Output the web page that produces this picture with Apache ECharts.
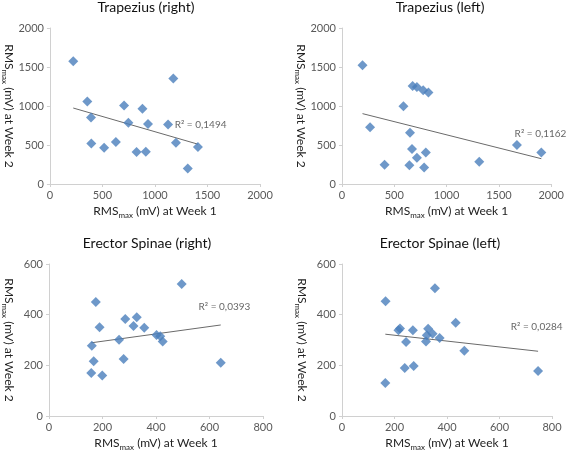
<!DOCTYPE html>
<html>
<head>
<meta charset="utf-8">
<script src="https://cdn.jsdelivr.net/npm/echarts@6/dist/echarts.min.js"></script>
<style>html,body{margin:0;padding:0;background:#fff;}#c{width:567px;height:452px;}</style>
</head>
<body>
<div id="c"></div>
<script>
// Panel titles and R² labels
var titles = ['Trapezius (right)', 'Trapezius (left)', 'Erector Spinae (right)', 'Erector Spinae (left)'];
var r2Labels = ['R\u00b2 = 0,1494', 'R\u00b2 = 0,1162', 'R\u00b2 = 0,0393', 'R\u00b2 = 0,0284'];
var axisMax = [2000, 2000, 800, 800];
var axisStep = [500, 500, 200, 200];
var yMax = [2000, 2000, 600, 600];
var yStep = [500, 500, 200, 200];

// Week 1 (x) and Week 2 (y) values per panel
var trapRightW1 = [222, 356, 391, 394, 516, 628, 706, 747, 825, 881, 913, 934, 1125, 1175, 1200, 1312, 1409];
var trapRightW2 = [1574, 1058, 853, 520, 465, 537, 1006, 785, 409, 964, 414, 768, 763, 1352, 529, 200, 473];
var trapLeftW1 = [196, 268, 407, 587, 650, 644, 669, 675, 716, 716, 776, 785, 801, 826, 1312, 1672, 1905];
var trapLeftW2 = [1522, 729, 247, 998, 657, 239, 448, 1258, 1245, 337, 1203, 213, 405, 1173, 286, 499, 405];
var esRightW1 = [175, 496, 328, 285, 316, 189, 356, 402, 416, 425, 262, 160, 167, 279, 158, 199, 642];
var esRightW2 = [450, 521, 390, 383, 355, 350, 348, 320, 315, 294, 301, 277, 216, 225, 170, 160, 210];
var esLeftW1 = [166, 354, 165, 433, 215, 221, 270, 244, 328, 323, 345, 320, 372, 239, 273, 466, 747];
var esLeftW2 = [453, 504, 130, 368, 338, 345, 338, 292, 344, 319, 325, 294, 308, 189, 197, 258, 178];

var xs = [trapRightW1, trapLeftW1, esRightW1, esLeftW1];
var ys = [trapRightW2, trapLeftW2, esRightW2, esLeftW2];

function regress(x, y) {
  var n = x.length, sx = 0, sy = 0, sxx = 0, sxy = 0;
  for (var i = 0; i < n; i++) { sx += x[i]; sy += y[i]; sxx += x[i]*x[i]; sxy += x[i]*y[i]; }
  var b = (n*sxy - sx*sy) / (n*sxx - sx*sx);
  var a = (sy - b*sx) / n;
  var mn = Math.min.apply(null, x), mx = Math.max.apply(null, x);
  return [[mn, a + b*mn], [mx, a + b*mx]];
}

var grids = [
  {left: 47, top: 28, width: 213, height: 156},
  {left: 342, top: 28, width: 212, height: 156},
  {left: 47, top: 264, width: 216, height: 154},
  {left: 342, top: 264, width: 210, height: 154}
];
var titlePos = [[146, 0], [440, 0], [147, 236], [440, 236]];
var labelPos = [[1188, 755], [1650, 640], [559, 431], [643, 351]];

var font = 'Lato, "Open Sans", sans-serif';
var nameRich = {
  s: {fontSize: 8, fontFamily: font, color: '#222', verticalAlign: 'top', padding: [7, 0, 0, 0]}
};
function plain(v) { return String(v); }

var option = {
  animation: false,
  textStyle: {fontFamily: font},
  title: titles.map(function (t, i) {
    return {text: t, left: titlePos[i][0], top: titlePos[i][1], textAlign: 'center', padding: 0,
      textStyle: {fontSize: 14, fontWeight: 'normal', color: '#111', fontFamily: font}};
  }),
  grid: grids,
  xAxis: grids.map(function (g, i) {
    return {gridIndex: i, type: 'value', min: 0, max: axisMax[i], interval: axisStep[i],
      name: 'RMS{s|max} (mV) at Week 1', nameLocation: 'middle', nameGap: 20,
      nameTextStyle: {fontSize: 12, color: '#222', fontFamily: font, rich: nameRich},
      axisLine: {show: true, lineStyle: {color: '#d0d0d0'}},
      axisTick: {show: true, length: 3, lineStyle: {color: '#d0d0d0'}},
      axisLabel: {fontSize: 11, color: '#595959', margin: 6, fontFamily: font, formatter: plain},
      splitLine: {show: false}};
  }),
  yAxis: grids.map(function (g, i) {
    return {gridIndex: i, type: 'value', min: 0, max: yMax[i], interval: yStep[i],
      name: 'RMS{s|max} (mV) at Week 2', nameLocation: 'middle', nameGap: 33, nameRotate: -90,
      nameTextStyle: {fontSize: 12, color: '#222', fontFamily: font, rich: nameRich},
      axisLine: {show: true, lineStyle: {color: '#d0d0d0'}},
      axisTick: {show: true, length: 3, lineStyle: {color: '#d0d0d0'}},
      axisLabel: {fontSize: 11, color: '#595959', margin: 6, fontFamily: font, formatter: plain},
      splitLine: {show: false}};
  }),
  series: []
};

for (var i = 0; i < 4; i++) {
  var pts = xs[i].map(function (v, k) { return [v, ys[i][k]]; });
  option.series.push({
    type: 'line', xAxisIndex: i, yAxisIndex: i, data: regress(xs[i], ys[i]),
    showSymbol: false, symbol: 'none', lineStyle: {color: '#6a6a6a', width: 1}, z: 1, silent: true
  });
  option.series.push({
    type: 'scatter', xAxisIndex: i, yAxisIndex: i, data: pts,
    symbol: 'diamond', symbolSize: 10, itemStyle: {color: '#4a7ebb'}, z: 2
  });
  option.series.push({
    type: 'scatter', xAxisIndex: i, yAxisIndex: i, data: [labelPos[i]],
    symbolSize: 0, z: 3, silent: true,
    label: {show: true, position: 'right', distance: 0, formatter: r2Labels[i],
      fontSize: 10, color: '#404040', fontFamily: font}
  });
}

var chart = echarts.init(document.getElementById('c'));
chart.setOption(option);
</script>
</body>
</html>
